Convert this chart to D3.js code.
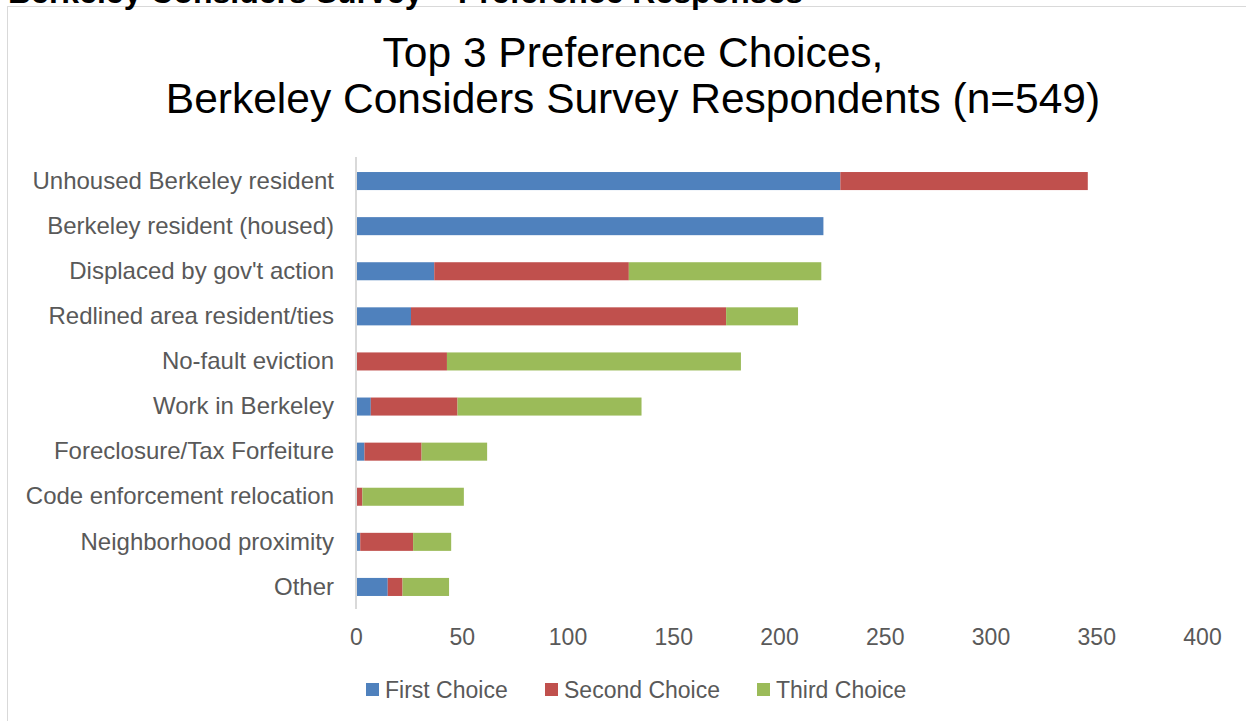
<!DOCTYPE html>
<html><head><meta charset="utf-8">
<script src="https://cdn.jsdelivr.net/npm/d3@7"></script>
<style>body{margin:0;background:#fff;}svg{display:block;font-family:"Liberation Sans",Arial,sans-serif;}</style>
</head><body>
<script>
const categories = ["Unhoused Berkeley resident","Berkeley resident (housed)","Displaced by gov't action","Redlined area resident/ties","No-fault eviction","Work in Berkeley","Foreclosure/Tax Forfeiture","Code enforcement relocation","Neighborhood proximity","Other"];
const firstChoice  = [229, 221, 37, 26, 0, 7, 4, 0, 2, 15];
const secondChoice = [117, 0, 92, 149, 43, 41, 27, 3, 25, 7];
const thirdChoice  = [0, 0, 91, 34, 139, 87, 31, 48, 18, 22];
const seriesNames = ["First Choice","Second Choice","Third Choice"];
const colors = ["#4F81BD","#C0504D","#9BBB59"];
const xTicks = [0,50,100,150,200,250,300,350,400];

const W=1246,H=721;
const svg=d3.select("body").append("svg").attr("width",W).attr("height",H);
svg.append("rect").attr("x",7.5).attr("y",6.5).attr("width",W+10).attr("height",H+10).attr("fill","#fff").attr("stroke","#D9D9D9").attr("stroke-width",1);
svg.append("text").attr("x",8).attr("y",3).attr("font-size",32).attr("font-weight","bold").attr("fill","#000").text("Berkeley Considers Survey \u2013 Preference Responses");

svg.append("text").attr("x",633).attr("y",67).attr("text-anchor","middle").attr("font-size",42.5).attr("fill","#000").text("Top 3 Preference Choices,");
svg.append("text").attr("x",633).attr("y",113).attr("text-anchor","middle").attr("font-size",42.5).attr("fill","#000").text("Berkeley Considers Survey Respondents (n=549)");

const x=d3.scaleLinear().domain([0,400]).range([356,1202]);
const y=d3.scaleBand().domain(categories).range([158.5,609.5]).paddingInner(0.6).paddingOuter(0.3);

const rows=categories.map((c,i)=>({cat:c,"First Choice":firstChoice[i],"Second Choice":secondChoice[i],"Third Choice":thirdChoice[i]}));
const stack=d3.stack().keys(seriesNames)(rows);
const g=svg.append("g");
stack.forEach((s,si)=>{
  g.selectAll(null).data(s).enter().append("rect")
   .attr("x",d=>x(d[0])).attr("width",d=>Math.max(0,x(d[1])-x(d[0])))
   .attr("y",d=>y(d.data.cat)).attr("height",y.bandwidth())
   .attr("fill",colors[si]);
});

// y axis line
svg.append("line").attr("x1",356).attr("x2",356).attr("y1",157).attr("y2",609).attr("stroke","#D9D9D9").attr("stroke-width",2);

// category labels
const yAxis=svg.append("g").attr("transform","translate(356,0)").call(d3.axisLeft(y).tickSize(0).tickPadding(22));
yAxis.select(".domain").remove();
yAxis.selectAll("text").attr("font-size",24).attr("fill","#595959").attr("font-family","Liberation Sans, Arial, sans-serif");

// x tick labels
const xAxis=svg.append("g").attr("transform","translate(0,629)").call(d3.axisBottom(x).tickValues(xTicks).tickSize(0).tickPadding(0));
xAxis.select(".domain").remove();
xAxis.selectAll("text").attr("font-size",23).attr("fill","#595959").attr("font-family","Liberation Sans, Arial, sans-serif").attr("dy","0.71em");

// legend
const legX=[366,545,757];
seriesNames.forEach((n,i)=>{
  svg.append("rect").attr("x",legX[i]).attr("y",683).attr("width",13).attr("height",13).attr("fill",colors[i]);
  svg.append("text").attr("x",legX[i]+19).attr("y",698).attr("font-size",23).attr("fill","#595959").text(n);
});
</script>
</body></html>
